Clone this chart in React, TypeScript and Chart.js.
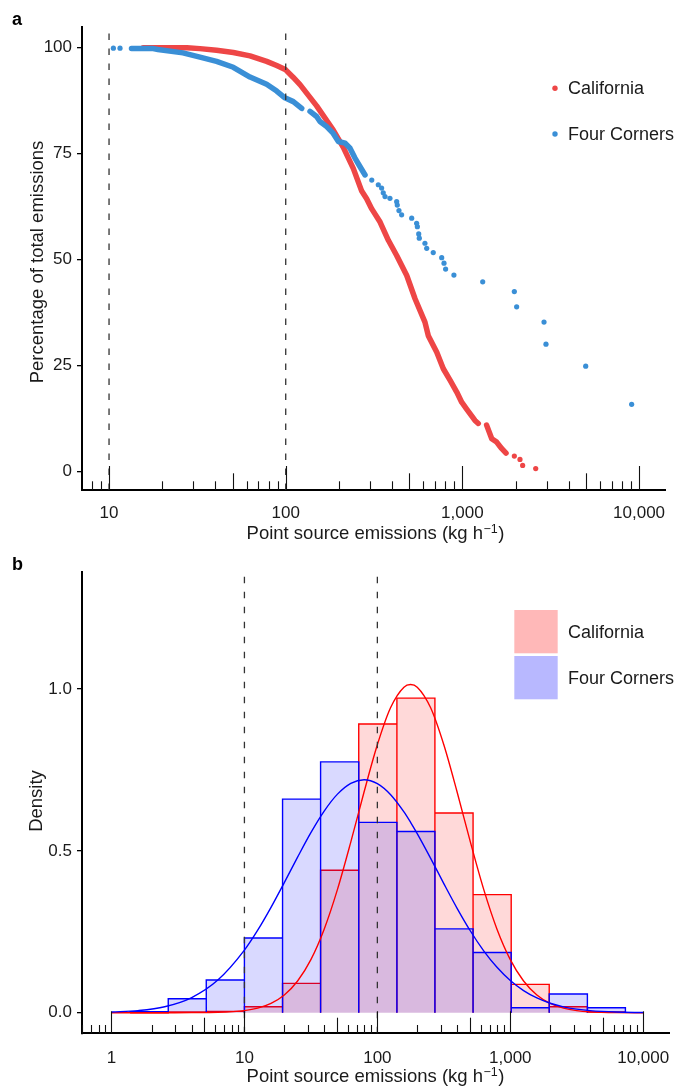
import React, { useEffect, useRef } from 'react';
import { Chart, registerables } from 'chart.js';

Chart.register(...registerables);

const FONT = '"Liberation Sans", Arial, Helvetica, sans-serif';
const TEXT = '#1a1a1a';
const RED_PT = '#EE4646';
const BLUE_PT = '#3A8FD6';
const RED = '#FF0000';
const BLUE = '#0000FF';
const DASH = '#333333';

// ---------- Panel a: cumulative percentage of total emissions ----------
const caLineX = [15.6, 27.6, 32.7, 40.6, 50.5, 62.8, 78.0, 88.9, 100, 110.4, 120.5, 149.6, 185.8, 211.8, 241.5, 269.2, 287.1, 306.9, 342, 381, 424.6, 484.2, 539.5, 613.8, 641.2, 716.1, 779.8, 851.1, 929, 990.8, 1057, 1178, 1230];
const caLineY = [100, 100, 99.8, 99.4, 98.9, 98.1, 96.8, 95.8, 94.8, 93.0, 91.3, 86.3, 80.6, 76.5, 71.5, 66.2, 64.4, 62.0, 58.9, 54.6, 51.0, 46.3, 40.8, 35.3, 32.1, 28.2, 24.3, 21.6, 18.8, 16.4, 14.8, 12.1, 11.4];
const caLine2X = [1371, 1466, 1563, 1667, 1766];
const caLine2Y = [11.0, 7.8, 7.0, 5.5, 4.4];
const caDotX = [1968, 2118, 2193, 2600];
const caDotY = [3.7, 2.9, 1.5, 0.76];

const fcLineX = [13.4, 17.8, 18.9, 26.2, 32.7, 40.6, 50.5, 62.8, 78.0, 88.9, 98.9, 110.4, 123.2];
const fcLineY = [99.8, 99.8, 99.6, 98.8, 97.8, 96.8, 95.4, 93.1, 91.4, 89.8, 88.2, 87.3, 85.7];
const fcLine2X = [137.3, 149.6, 156.3, 170.6, 185.8, 198.6, 216.8, 231.2, 246.6, 263, 281.2];
const fcLine2Y = [85.0, 83.8, 82.6, 81.4, 79.8, 77.9, 77.5, 76.3, 74.0, 72.0, 70.0];
const fcDotX = [10.58, 11.54, 306.9, 334.2, 349, 356.5, 364.8, 389, 424.6, 428, 437.5, 452.9, 516.4, 550.8, 556, 566, 570.2, 613.8, 628.1, 683.9, 763.8, 787, 803.5, 895.4, 1303, 1968, 2028, 2897, 2972, 4989, 9078];
const fcDotY = [99.9, 99.9, 68.8, 67.7, 66.9, 65.8, 64.9, 64.5, 63.7, 62.9, 61.6, 60.6, 59.8, 58.6, 57.8, 56.1, 55.1, 53.9, 52.7, 51.7, 50.5, 49.2, 47.8, 46.4, 44.8, 42.5, 38.9, 35.3, 30.1, 24.9, 15.9];

const A_X_TICKS = [10, 100, 1000, 10000];
const A_Y_TICKS = [0, 25, 50, 75, 100];
const A_X_MIN = 7.03;
const A_X_MAX = 14020;
const A_Y_MIN = -4.3;
const A_Y_MAX = 104.9;

// ---------- Panel b: density histograms ----------
const binEdges = [1.38, 2.673, 5.164, 10, 19.36, 37.41, 72.44, 140.3, 271.0, 524.8, 1016, 1963, 3802, 7345];
const caDensity = [0, 0.002, 0.004, 0.0185, 0.0907, 0.44, 0.892, 0.972, 0.617, 0.365, 0.0876, 0.0185, 0.002];
const fcDensity = [0.003, 0.043, 0.101, 0.231, 0.66, 0.775, 0.588, 0.56, 0.259, 0.186, 0.0154, 0.0577, 0.0154];

const curveX = [1, 1.585, 2.512, 3.981, 6.31, 10, 12.59, 15.85, 19.95, 25.12, 31.62, 39.81, 50.12, 63.1, 79.43, 100, 125.9, 158.5, 177.8, 199.5, 251.2, 316.2, 398.1, 501.2, 631, 794.3, 1000, 1259, 1585, 1995, 2512, 3162, 3981, 6310, 10000];
const caCurve = [0, 0, 0, 0.0002, 0.0011, 0.0064, 0.014, 0.0286, 0.0546, 0.0979, 0.164, 0.258, 0.381, 0.527, 0.682, 0.828, 0.943, 1.006, 1.014, 1.006, 0.943, 0.828, 0.682, 0.527, 0.381, 0.258, 0.164, 0.0979, 0.0546, 0.0286, 0.014, 0.0064, 0.0028, 0.0004, 0];
const fcCurve = [0.002, 0.0066, 0.0186, 0.0462, 0.101, 0.1935, 0.255, 0.3255, 0.402, 0.4807, 0.5563, 0.623, 0.6754, 0.7088, 0.72, 0.7079, 0.6737, 0.6206, 0.5884, 0.5533, 0.4776, 0.399, 0.3226, 0.2525, 0.1913, 0.1403, 0.0996, 0.0684, 0.0455, 0.0293, 0.0182, 0.011, 0.0064, 0.002, 0.0005];

const B_X_TICKS = [1, 10, 100, 1000, 10000];
const B_Y_TICKS = [0, 0.5, 1.0];
const B_X_MIN = 0.631;
const B_X_MAX = 15630;
const B_Y_MIN = -0.0636;
const B_Y_MAX = 1.3627;

const THRESHOLDS = [10, 100];

// log-tick positions
const DECADE_BASES = [0.1, 1, 10, 100, 1000, 10000];
const MINOR_MULTS = [2, 3, 4, 6, 7, 8, 9];
const MID_MULT = 5;

const LEGEND_NAMES = ['California', 'Four Corners'];

const shortTicks: number[] = [];
const midTicks: number[] = [];
DECADE_BASES.forEach((b) => {
  MINOR_MULTS.forEach((m) => shortTicks.push(b * m));
  midTicks.push(b * MID_MULT);
});

const pts = (xs: number[], ys: number[]) => xs.map((x, i) => ({ x, y: ys[i] }));

function histPath(edges: number[], heights: number[]) {
  const out: { x: number; y: number }[] = [];
  for (let i = 0; i < heights.length; i++) {
    out.push({ x: edges[i], y: 0 }, { x: edges[i], y: heights[i] }, { x: edges[i + 1], y: heights[i] }, { x: edges[i + 1], y: 0 });
  }
  return out;
}

const logTicksPlugin = {
  id: 'logTicks',
  afterDatasetsDraw(chart: any, _args: any, opts: any) {
    const { ctx, chartArea } = chart;
    const xs = chart.scales.x;
    ctx.save();
    ctx.strokeStyle = '#111';
    ctx.lineWidth = 1.1;
    const drawSet = (vals: number[], len: number) => {
      vals.forEach((v) => {
        if (v < xs.min || v > xs.max) return;
        const px = Math.round(xs.getPixelForValue(v)) + 0.5;
        ctx.beginPath();
        ctx.moveTo(px, chartArea.bottom);
        ctx.lineTo(px, chartArea.bottom - len);
        ctx.stroke();
      });
    };
    drawSet(shortTicks, opts.lengths[0]);
    drawSet(midTicks, opts.lengths[1]);
    drawSet(opts.long, opts.lengths[2]);
    ctx.restore();
  },
};

function drawXTitle(ctx: CanvasRenderingContext2D, cx: number, baseline: number) {
  const main = 'Point source emissions (kg h';
  const sup = '\u22121';
  const close = ')';
  ctx.font = `18.5px ${FONT}`;
  const w1 = ctx.measureText(main).width;
  const w3 = ctx.measureText(close).width;
  ctx.font = `12.5px ${FONT}`;
  const w2 = ctx.measureText(sup).width;
  const total = w1 + w2 + w3 + 1;
  let x = cx - total / 2;
  ctx.textAlign = 'left';
  ctx.textBaseline = 'alphabetic';
  ctx.fillStyle = TEXT;
  ctx.font = `18.5px ${FONT}`;
  ctx.fillText(main, x, baseline);
  x += w1 + 0.5;
  ctx.font = `12.5px ${FONT}`;
  ctx.fillText(sup, x, baseline - 6);
  x += w2 + 0.5;
  ctx.font = `18.5px ${FONT}`;
  ctx.fillText(close, x, baseline);
}

const textPlugin = {
  id: 'panelText',
  afterDraw(chart: any, _args: any, o: any) {
    const ctx: CanvasRenderingContext2D = chart.ctx;
    ctx.save();
    // panel letter
    ctx.fillStyle = '#000';
    ctx.font = `bold 18px ${FONT}`;
    ctx.textAlign = 'left';
    ctx.textBaseline = 'alphabetic';
    ctx.fillText(o.letter, 12, o.letterY);
    // y title
    ctx.save();
    ctx.translate(o.yTitleX, o.yTitleY);
    ctx.rotate(-Math.PI / 2);
    ctx.font = `18.5px ${FONT}`;
    ctx.fillStyle = TEXT;
    ctx.textAlign = 'center';
    ctx.textBaseline = 'alphabetic';
    ctx.fillText(o.yTitle, 0, 0);
    ctx.restore();
    // x title
    drawXTitle(ctx, 375.5, o.xTitleY);
    // legend
    ctx.font = `18px ${FONT}`;
    ctx.textAlign = 'left';
    ctx.textBaseline = 'alphabetic';
    o.legend.forEach((item: any) => {
      if (item.kind === 'dot') {
        ctx.fillStyle = item.color;
        ctx.beginPath();
        ctx.arc(item.mx, item.my, 2.7, 0, Math.PI * 2);
        ctx.fill();
      } else {
        ctx.fillStyle = item.color;
        ctx.fillRect(item.rx, item.ry, item.rw, item.rh);
      }
      ctx.fillStyle = TEXT;
      ctx.fillText(item.label, item.tx, item.ty);
    });
    ctx.restore();
  },
};

function axisCommon(yTickVals: number[], yFmt: (v: number) => string, yMin: number, yMax: number, xTickVals: number[], xMin: number, xMax: number, xHeight: number, xPad: number) {
  return {
    x: {
      type: 'logarithmic',
      min: xMin,
      max: xMax,
      afterFit: (s: any) => {
        s.height = xHeight;
      },
      afterBuildTicks: (s: any) => {
        s.ticks = xTickVals.map((v) => ({ value: v }));
      },
      ticks: {
        callback: (v: any) => Number(v).toLocaleString('en-US'),
        font: { family: FONT, size: 17 },
        color: TEXT,
        padding: xPad,
        maxRotation: 0,
        autoSkip: false,
      },
      grid: { display: false },
      border: { display: true, color: '#000', width: 2 },
    },
    y: {
      type: 'linear',
      min: yMin,
      max: yMax,
      afterFit: (s: any) => {
        s.width = 82;
      },
      afterBuildTicks: (s: any) => {
        s.ticks = yTickVals.map((v) => ({ value: v }));
      },
      ticks: {
        callback: (v: any) => yFmt(Number(v)),
        font: { family: FONT, size: 17 },
        color: TEXT,
        padding: 5,
        autoSkip: false,
      },
      grid: { display: true, drawOnChartArea: false, drawTicks: true, tickLength: 5, color: '#000', lineWidth: 1.3 },
      border: { display: true, color: '#000', width: 2 },
    },
  };
}

function vlineDatasets(yMin: number, yMax: number) {
  return THRESHOLDS.map((t) => ({
    data: [
      { x: t, y: yMin },
      { x: t, y: yMax },
    ],
    borderColor: DASH,
    borderWidth: 1.3,
    borderDash: [6.5, 8.5],
    pointRadius: 0,
    fill: false,
    order: 0,
  }));
}

export default function App() {
  const topRef = useRef<HTMLCanvasElement>(null);
  const botRef = useRef<HTMLCanvasElement>(null);

  useEffect(() => {
    const thick = (color: string, data: any[], order: number) => ({
      data,
      borderColor: color,
      borderWidth: 5.5,
      borderCapStyle: 'round',
      borderJoinStyle: 'round',
      pointRadius: 0,
      fill: false,
      order,
    });
    const dots = (color: string, data: any[], order: number) => ({
      data,
      showLine: false,
      pointRadius: 2.6,
      pointBackgroundColor: color,
      pointBorderWidth: 0,
      pointHoverRadius: 0,
      order,
    });

    const top = new Chart(topRef.current as HTMLCanvasElement, {
      type: 'line',
      data: {
        datasets: [
          ...vlineDatasets(A_Y_MIN, A_Y_MAX),
          dots(BLUE_PT, pts(fcDotX, fcDotY), 1),
          thick(BLUE_PT, pts(fcLineX, fcLineY), 2),
          thick(BLUE_PT, pts(fcLine2X, fcLine2Y), 2),
          dots(RED_PT, pts(caDotX, caDotY), 3),
          thick(RED_PT, pts(caLineX, caLineY), 4),
          thick(RED_PT, pts(caLine2X, caLine2Y), 4),
        ] as any,
      },
      options: {
        responsive: false,
        maintainAspectRatio: false,
        animation: false,
        devicePixelRatio: 1,
        events: [],
        layout: { padding: { top: 27, right: 14, left: 0, bottom: 0 } },
        plugins: {
          legend: { display: false },
          tooltip: { enabled: false },
          logTicks: { long: A_X_TICKS, lengths: [8.7, 16.7, 24] },
          panelText: {
            letter: 'a',
            letterY: 25,
            yTitle: 'Percentage of total emissions',
            yTitleX: 43,
            yTitleY: 262,
            xTitleY: 538.5,
            legend: [
              { kind: 'dot', color: RED_PT, mx: 555, my: 88.3, label: LEGEND_NAMES[0], tx: 568, ty: 94.3 },
              { kind: 'dot', color: BLUE_PT, mx: 555, my: 134, label: LEGEND_NAMES[1], tx: 568, ty: 140 },
            ],
          },
        } as any,
        scales: axisCommon(A_Y_TICKS, (v) => String(v), A_Y_MIN, A_Y_MAX, A_X_TICKS, A_X_MIN, A_X_MAX, 60, 5) as any,
      },
      plugins: [logTicksPlugin, textPlugin] as any,
    });

    const bot = new Chart(botRef.current as HTMLCanvasElement, {
      type: 'line',
      data: {
        datasets: [
          ...vlineDatasets(B_Y_MIN, B_Y_MAX),
          {
            data: pts(curveX, fcCurve),
            borderColor: BLUE,
            borderWidth: 1.4,
            pointRadius: 0,
            fill: false,
            cubicInterpolationMode: 'monotone',
            order: 1,
          },
          {
            data: pts(curveX, caCurve),
            borderColor: RED,
            borderWidth: 1.4,
            pointRadius: 0,
            fill: false,
            cubicInterpolationMode: 'monotone',
            order: 2,
          },
          {
            data: histPath(binEdges, fcDensity),
            borderColor: BLUE,
            borderWidth: 1.4,
            backgroundColor: 'rgba(0,0,255,0.15)',
            pointRadius: 0,
            fill: 'origin',
            order: 3,
          },
          {
            data: histPath(binEdges, caDensity),
            borderColor: RED,
            borderWidth: 1.4,
            backgroundColor: 'rgba(255,0,0,0.15)',
            pointRadius: 0,
            fill: 'origin',
            order: 4,
          },
        ] as any,
      },
      options: {
        responsive: false,
        maintainAspectRatio: false,
        animation: false,
        devicePixelRatio: 1,
        events: [],
        layout: { padding: { top: 21.7, right: 10, left: 0, bottom: 0 } },
        plugins: {
          legend: { display: false },
          tooltip: { enabled: false },
          logTicks: { long: B_X_TICKS, lengths: [8.3, 15.6, 22] },
          panelText: {
            letter: 'b',
            letterY: 20,
            yTitle: 'Density',
            yTitleX: 42,
            yTitleY: 251,
            xTitleY: 532.3,
            legend: [
              { kind: 'rect', color: 'rgba(255,0,0,0.28)', rx: 514.3, ry: 60, rw: 43.4, rh: 43.3, label: LEGEND_NAMES[0], tx: 568, ty: 88.3 },
              { kind: 'rect', color: 'rgba(0,0,255,0.28)', rx: 514.3, ry: 106, rw: 43.4, rh: 43.3, label: LEGEND_NAMES[1], tx: 568, ty: 134.3 },
            ],
          },
        } as any,
        scales: axisCommon(B_Y_TICKS, (v) => v.toFixed(1), B_Y_MIN, B_Y_MAX, B_X_TICKS, B_X_MIN, B_X_MAX, 54.7, 6.5) as any,
      },
      plugins: [logTicksPlugin, textPlugin] as any,
    });

    return () => {
      top.destroy();
      bot.destroy();
    };
  }, []);

  return (
    <div style={{ position: 'absolute', left: 0, top: 0, width: 679, height: 1088, background: '#fff', overflow: 'hidden' }}>
      <canvas ref={topRef} width={679} height={550} style={{ position: 'absolute', left: 0, top: 0, display: 'block' }} />
      <canvas ref={botRef} width={679} height={538} style={{ position: 'absolute', left: 0, top: 550, display: 'block' }} />
    </div>
  );
}
